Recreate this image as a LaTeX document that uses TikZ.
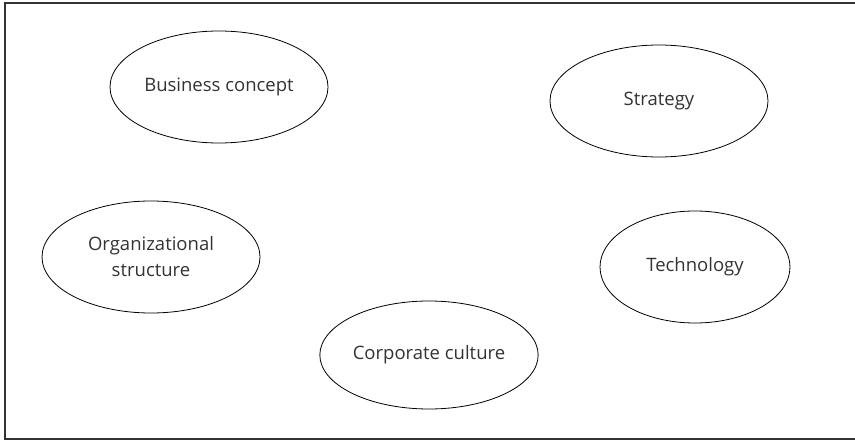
\documentclass[tikz,border=0pt]{standalone}
\usepackage{fontspec}
\setmainfont{Open Sans}
\usetikzlibrary{shapes.geometric}

\definecolor{inkgray}{HTML}{333333}

\begin{document}
\begin{tikzpicture}[
  x=1pt, y=-1pt,
  topic/.style = {ellipse, draw, line width=0.8pt, inner sep=1pt,
                  minimum width=218pt, minimum height=112pt,
                  align=center, font=\fontsize{18.5}{26}\selectfont,
                  text=inkgray},
  frame/.style = {draw=inkgray, line width=2pt},
]

\useasboundingbox (0,0) rectangle (855,441);

% outer frame, open on the right side
\begin{scope}
  \clip (0,0) rectangle (855,441);
  \draw[frame] (5,3) rectangle (870,439);
\end{scope}

\node[topic] (concept)  at (219,87)  {Business concept};
\node[topic] (strategy) at (659,101) {Strategy};
\node[topic] (org)      at (151,257) {Organizational\\structure};
\node[topic, minimum width=190pt] (tech) at (695,267) {Technology};
\node[topic, minimum height=108pt] (culture) at (429,355) {Corporate culture};

\end{tikzpicture}
\end{document}
